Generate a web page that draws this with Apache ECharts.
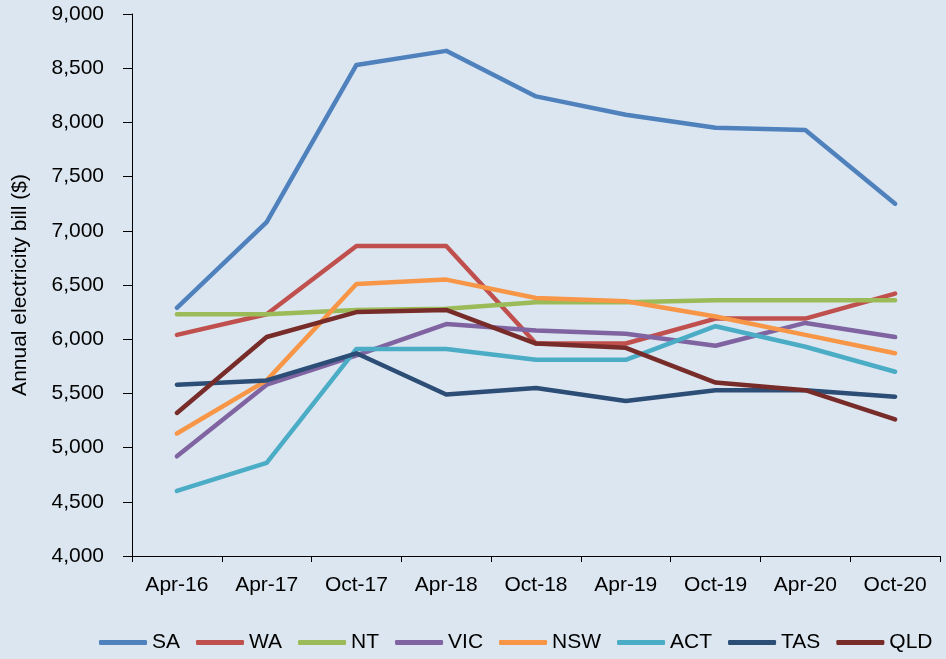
<!DOCTYPE html>
<html>
<head>
<meta charset="utf-8">
<script src="https://cdn.jsdelivr.net/npm/echarts@6/dist/echarts.min.js"></script>
<style>
  html, body { margin: 0; padding: 0; background: #dce6f0; }
  #chart { width: 946px; height: 659px; }
</style>
</head>
<body>
<div id="chart"></div>
<script>
  // 数据
  const periods = ['Apr-16', 'Apr-17', 'Oct-17', 'Apr-18', 'Oct-18', 'Apr-19', 'Oct-19', 'Apr-20', 'Oct-20']
  const sa = [6290, 7080, 8530, 8660, 8240, 8070, 7950, 7930, 7250]
  const wa = [6040, 6230, 6860, 6860, 5960, 5960, 6190, 6190, 6420]
  const nt = [6230, 6230, 6270, 6280, 6340, 6340, 6360, 6360, 6360]
  const vic = [4920, 5580, 5850, 6140, 6080, 6050, 5940, 6150, 6020]
  const nsw = [5130, 5620, 6510, 6550, 6380, 6350, 6210, 6040, 5870]
  const act = [4600, 4860, 5910, 5910, 5810, 5810, 6120, 5930, 5700]
  const tas = [5580, 5620, 5870, 5490, 5550, 5430, 5530, 5530, 5470]
  const qld = [5320, 6020, 6250, 6270, 5960, 5920, 5600, 5530, 5260]

  const states = [
    { name: 'SA', data: sa, color: '#4f81bd' },
    { name: 'WA', data: wa, color: '#c0504d' },
    { name: 'NT', data: nt, color: '#9bbb59' },
    { name: 'VIC', data: vic, color: '#8064a2' },
    { name: 'NSW', data: nsw, color: '#f79646' },
    { name: 'ACT', data: act, color: '#4bacc6' },
    { name: 'TAS', data: tas, color: '#2c4d75' },
    { name: 'QLD', data: qld, color: '#772c2a' }
  ]

  const font = 'Liberation Sans, Arial, sans-serif'
  const chart = echarts.init(document.getElementById('chart'))
  const option = {
    backgroundColor: '#dce6f0',
    animation: false,
    textStyle: { fontFamily: font },
    grid: { left: 132, right: 6, top: 14, bottom: 103 },
    legend: {
      bottom: 1,
      left: 94,
      itemWidth: 48,
      itemHeight: 5,
      itemGap: 16,
      icon: 'roundRect',
      textStyle: { fontSize: 21, color: '#000', fontFamily: font },
      data: states.map(s => s.name)
    },
    xAxis: {
      type: 'category',
      data: periods,
      boundaryGap: true,
      axisLine: { lineStyle: { color: '#000', width: 1 } },
      axisTick: { show: true, length: 6, lineStyle: { color: '#000' } },
      axisLabel: { fontSize: 21, color: '#000', margin: 19, fontFamily: font },
      splitLine: { show: false }
    },
    yAxis: {
      type: 'value',
      min: 4000,
      max: 9000,
      interval: 500,
      name: 'Annual electricity bill ($)',
      nameLocation: 'middle',
      nameGap: 101,
      nameTextStyle: { fontSize: 21, color: '#000', fontFamily: font },
      axisLine: { show: true, lineStyle: { color: '#000', width: 1 } },
      axisTick: { show: true, length: 9, lineStyle: { color: '#000' } },
      axisLabel: {
        fontSize: 21,
        color: '#000',
        margin: 28,
        fontFamily: font,
        formatter: v => v.toLocaleString('en-US')
      },
      splitLine: { show: false }
    },
    series: states.map(s => ({
      name: s.name,
      type: 'line',
      data: s.data,
      symbol: 'none',
      itemStyle: { color: s.color },
      lineStyle: { color: s.color, width: 4.5, cap: 'round', join: 'round' }
    }))
  }
  chart.setOption(option)
</script>
</body>
</html>
